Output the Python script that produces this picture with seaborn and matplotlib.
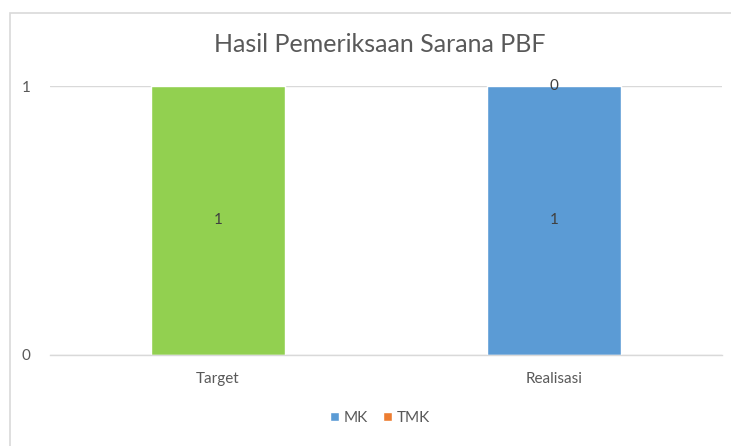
import matplotlib
matplotlib.use("Agg")
import matplotlib.pyplot as plt
import seaborn as sns
import pandas as pd
from matplotlib.patches import Rectangle, Patch

categories = ["Target", "Realisasi"]
mk_values = [1, 1]
tmk_values = [0, 0]
title = "Hasil Pemeriksaan Sarana PBF"

sns.set_theme(style="white")
plt.rcParams['font.family'] = ['Lato', 'DejaVu Sans']

green = "#92D050"
blue = "#5B9BD5"
orange = "#ED7D31"
txt = "#595959"
grid = "#D9D9D9"

fig = plt.figure(figsize=(7.31, 4.46), dpi=100)
ax = fig.add_axes([50/731, 1-355/446, 672/731, 269/446])

df = pd.DataFrame({"cat": categories, "mk": mk_values, "tmk": tmk_values})
df["total"] = df["mk"] + df["tmk"]

sns.barplot(data=df, x="cat", y="total", color=orange, width=0.4, ax=ax, order=categories,
            saturation=1)
sns.barplot(data=df, x="cat", y="mk", hue="cat", palette={"Target": green, "Realisasi": blue},
            width=0.4, ax=ax, order=categories, legend=False, dodge=False, saturation=1)

# labels
for i, (m, t) in enumerate(zip(mk_values, tmk_values)):
    ax.text(i, m/2, str(m), ha="center", va="center", fontsize=11, color="#404040")
    if i == 1:
        ax.text(i, m + t/2, str(t), ha="center", va="center", fontsize=11, color="#404040")

ax.set_ylim(0, 1)
ax.set_xlim(-0.5, 1.5)
ax.set_yticks([0, 1])
ax.set_yticklabels(["0", "1"])
ax.set_xlabel("")
ax.set_ylabel("")
ax.yaxis.grid(True, color=grid, linewidth=1)
ax.set_axisbelow(True)
for s in ["top", "right", "left"]:
    ax.spines[s].set_visible(False)
ax.spines["bottom"].set_color(grid)
ax.spines["bottom"].set_linewidth(1)
ax.tick_params(axis="both", length=0, labelsize=11, labelcolor=txt)
ax.tick_params(axis="y", pad=14)
ax.tick_params(axis="x", pad=12)

fig.text(380/731, 1-45/446, title, ha="center", va="center", fontsize=18, color=txt)

handles = [Patch(facecolor=blue, label="MK"), Patch(facecolor=orange, label="TMK")]
fig.legend(handles=handles, loc="center", bbox_to_anchor=(380/731, 1-418/446), ncol=2,
           frameon=False, fontsize=11, labelcolor=txt, handlelength=0.6, handleheight=0.6,
           handletextpad=0.3, columnspacing=1.0)

fig.patches.append(Rectangle((10/731, -0.1), 1.2, 1.1 - 13/446, transform=fig.transFigure,
                             fill=False, edgecolor=grid, linewidth=1.2))

fig.savefig("out.png", dpi=100)
